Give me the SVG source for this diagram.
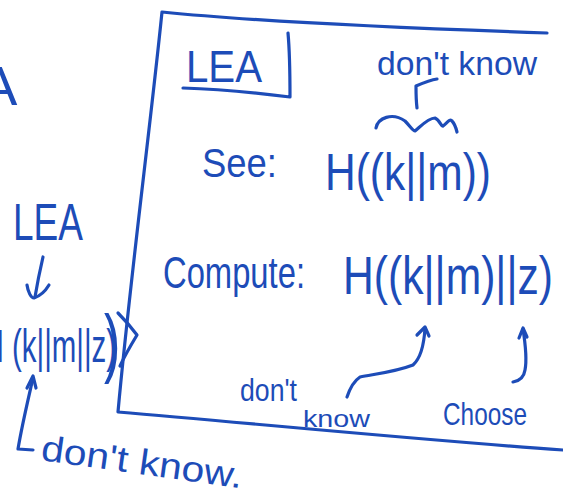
<svg xmlns="http://www.w3.org/2000/svg" width="563" height="493" viewBox="0 0 563 493">
  <style>
    .ink { fill: none; stroke: #1d4cb8; stroke-width: 3.2; stroke-linecap: round; stroke-linejoin: round; }
    .hw { fill: #1d4cb8; font-family: "Liberation Sans", "DejaVu Sans", sans-serif; }
  </style>
  <rect width="563" height="493" fill="#ffffff"/>

  <!-- LEA frame (open on the right) -->
  <g id="lea-frame">
    <path class="ink" d="M162,12 C260,22 400,28 547,33 M162,12 C150,130 130,280 118,412 C260,424 420,440 563,450"/>
  </g>

  <!-- boxed title -->
  <g id="lea-title">
    <text class="hw" x="186" y="82" font-size="44" textLength="76" lengthAdjust="spacingAndGlyphs">LEA</text>
    <path class="ink" d="M288,33 C290,55 290,78 290,97 C250,92 215,89 183,88"/>
  </g>

  <!-- what LEA sees -->
  <g id="see-row">
    <text class="hw" x="202" y="177" font-size="40" textLength="75" lengthAdjust="spacingAndGlyphs">See:</text>
    <text class="hw" x="325" y="190" font-size="52" textLength="166" lengthAdjust="spacingAndGlyphs">H((k||m))</text>
    <path class="ink" d="M376,128 C378,118 392,112 405,121 C410,126 413,131 415,131 C420,127 428,118 435,118 C440,120 441,127 443,126 C447,123 450,118 452,121 C455,124 456,128 457,132"/>
    <text class="hw" x="377" y="75" font-size="34" textLength="160" lengthAdjust="spacingAndGlyphs">don't know</text>
  </g>

  <!-- what LEA computes -->
  <g id="compute-row">
    <text class="hw" x="163" y="288" font-size="44" textLength="142" lengthAdjust="spacingAndGlyphs">Compute:</text>
    <text class="hw" x="343" y="294" font-size="54" textLength="210" lengthAdjust="spacingAndGlyphs">H((k||m)||z)</text>
    <text class="hw" x="240" y="401" font-size="32" textLength="57" lengthAdjust="spacingAndGlyphs">don't</text>
    <text class="hw" x="303" y="427" font-size="24" textLength="67" lengthAdjust="spacingAndGlyphs">know</text>
    <text class="hw" x="443" y="425" font-size="32" textLength="84" lengthAdjust="spacingAndGlyphs">Choose</text>
  </g>

  <!-- left-hand side -->
  <g id="left-a">
    <text class="hw" x="-20" y="105" font-size="56">A</text>
  </g>
  <g id="left-lea">
    <text class="hw" x="13" y="240" font-size="52" textLength="70" lengthAdjust="spacingAndGlyphs">LEA</text>
  </g>
  <g id="left-hash">
    <text class="hw" x="-28" y="362" font-size="46">H</text>
    <text class="hw" font-size="46" transform="translate(12,362) scale(0.64,1)">(k||m||z)<tspan font-size="76" dx="-19" dy="6">)</tspan></text>
  </g>
  <g id="left-note">
    <text class="hw" x="40" y="460" font-size="36" textLength="203" lengthAdjust="spacingAndGlyphs" transform="rotate(8 40 460)">don't know.</text>
  </g>

  <!-- connectors -->
  <g id="connectors">
    <!-- bracket to the upper "don't know" -->
    <path class="ink" d="M417,108 C416,100 416,92 416,86 C423,83 430,80 437,79"/>
    <!-- "don't know" to (k||m) -->
    <path class="ink" d="M347,397 C350,388 354,381 360,377 C375,374 395,372 413,365 C421,358 424,345 425,328"/>
    <path class="ink" d="M417,335 L425,327 L429,336"/>
    <!-- "Choose" to z -->
    <path class="ink" d="M513,382 C519,381 524,377 525,370 C527,360 526,348 523,329"/>
    <path class="ink" d="M519,338 L523,328 L527,337"/>
    <!-- LEA down to the hash -->
    <path class="ink" d="M43,257 C40,270 37,285 35,297"/>
    <path class="ink" d="M27,285 C28,292 31,298 34,298 C40,296 46,290 49,285"/>
    <!-- hash handed to the frame -->
    <path class="ink" d="M118,313 C125,320 131,327 137,335 C131,345 125,355 120,366"/>
    <!-- lower "don't know" up to the hash -->
    <path class="ink" d="M33,450 L18,449 C22,425 28,400 33,378"/>
    <path class="ink" d="M27,388 L33,376 L36,388"/>
  </g>
</svg>
